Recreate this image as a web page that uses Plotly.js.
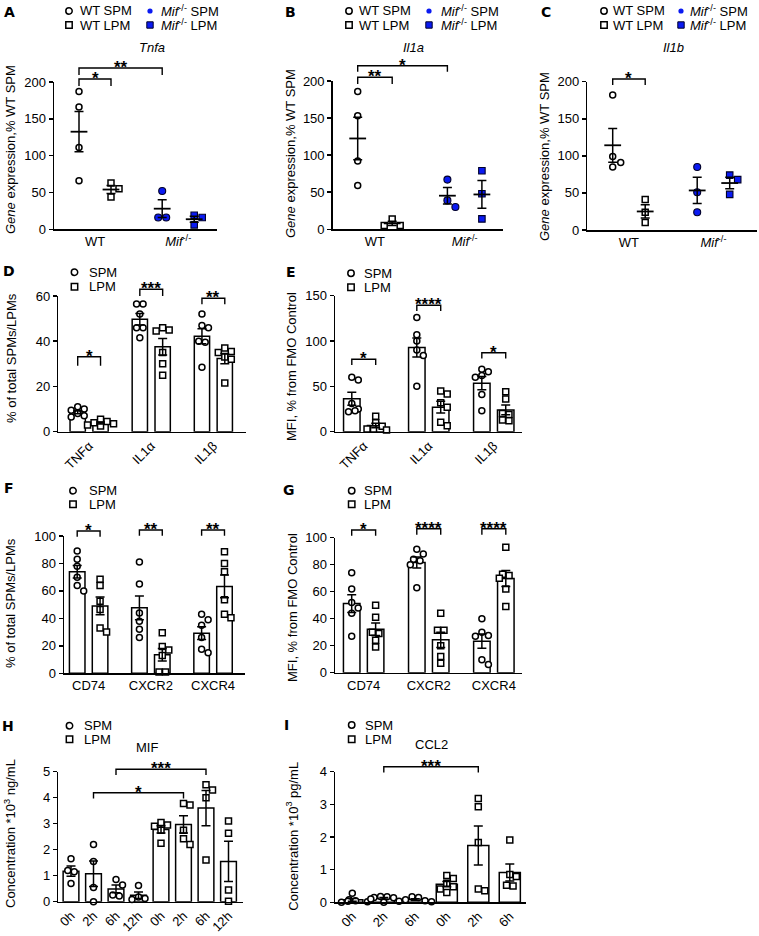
<!DOCTYPE html>
<html><head><meta charset="utf-8">
<script src="https://cdn.plot.ly/plotly-3.0.1.min.js"></script>
<style>html,body{margin:0;padding:0;background:#fff;}#chart{width:759px;height:936px;}</style>
</head><body><div id="chart"></div>
<script>
// ================= DATA =================
// A-C: gene expression, % WT SPM
const abcTicks = ['WT', '<i>Mif</i><sup>-/-</sup>'];
const abcTitles = ['Tnfa', 'Il1a', 'Il1b'];
const tnfaWTSPM = [187, 166, 111, 66];
const tnfaWTLPM = [63, 55, 44];
const tnfaMifSPM = [52, 16, 16];
const tnfaMifLPM = [19, 16, 6];
const il1aWTSPM = [186, 153, 92, 59];
const il1aWTLPM = [14, 5, 5];
const il1aMifSPM = [67, 39, 30];
const il1aMifLPM = [79, 48, 14];
const il1bWTSPM = [182, 99, 91, 85];
const il1bWTLPM = [41, 24, 10];
const il1bMifSPM = [85, 51, 24];
const il1bMifLPM = [74, 68, 48];
// D: % of total SPMs/LPMs
const cytoCats = ['TNFα', 'IL1α', 'IL1β'];
const dTnfSPM = [11, 10, 9.5, 8, 7, 6.5];
const dTnfLPM = [5.5, 4.5, 4, 3.5, 3, 2.5];
const dIl1aSPM = [56.5, 56.5, 52, 46, 46, 41.5];
const dIl1aLPM = [46, 45, 44.5, 35, 30, 25];
const dIl1bSPM = [52, 47, 46, 40, 39.5, 28.5];
const dIl1bLPM = [37, 35.5, 35, 33, 32, 21.5];
// E: MFI, % from FMO control
const eTnfSPM = [60, 57, 31, 25, 23, 22];
const eTnfLPM = [17, 10, 6, 3, 3, 2];
const eIl1aSPM = [126, 107, 100, 90, 84, 50];
const eIl1aLPM = [45, 41.5, 32, 27, 10.5, 6.5];
const eIl1bSPM = [69, 66, 62, 60, 41, 23];
const eIl1bLPM = [44, 36, 20, 19, 13, 12];
// F: % of total SPMs/LPMs
const recCats = ['CD74', 'CXCR2', 'CXCR4'];
const fCd74SPM = [89, 83, 78, 70, 64, 60];
const fCd74LPM = [68.5, 64, 52.5, 46.5, 33, 30];
const fCxcr2SPM = [81, 65, 44, 38, 32, 26];
const fCxcr2LPM = [29.5, 19.5, 17, 13, 1, 1];
const fCxcr4SPM = [43, 39, 35, 26, 17.5, 15];
const fCxcr4LPM = [88.5, 80, 74, 53.5, 43, 40.5];
// G: MFI, % from FMO control
const gCd74SPM = [74, 62, 52, 48, 44, 27];
const gCd74LPM = [50, 41, 30, 29, 24, 19];
const gCxcr2SPM = [91.5, 88, 84, 83, 80, 63];
const gCxcr2LPM = [44, 31.5, 31.5, 20, 12, 7];
const gCxcr4SPM = [40, 30, 27.5, 27, 9.5, 6];
const gCxcr4LPM = [93, 73, 72, 70, 62, 49];
// H: MIF concentration *10^3 ng/mL
const hCats = ['0h', '2h', '6h', '12h', '0h', '2h', '6h', '12h'];
const hSPM0 = [1.65, 1.15, 1.2, 0.7];
const hSPM2 = [2.2, 1.55, 0.55, 0.0];
const hSPM6 = [0.85, 0.64, 0.26, 0.22];
const hSPM12 = [0.62, 0.18, 0.12, 0.08];
const hLPM0 = [3.05, 2.95, 2.9, 2.75, 2.25];
const hLPM2 = [3.78, 3.72, 2.75, 2.42, 2.2];
const hLPM6 = [4.5, 4.3, 4.0, 1.6];
const hLPM12 = [3.1, 2.63, 0.45, 0.02];
// I: CCL2 concentration *10^3 pg/mL
const iCats = ['0h', '2h', '6h', '0h', '2h', '6h'];
const iSPM0 = [0.28, 0.08, 0.05, 0.03, 0.02, 0.0];
const iSPM2 = [0.18, 0.17, 0.15, 0.14, 0.1, 0.0];
const iSPM6 = [0.17, 0.15, 0.08, 0.05, 0.03, 0.02];
const iLPM0 = [0.82, 0.73, 0.58, 0.48, 0.41, 0.3];
const iLPM2 = [3.18, 2.93, 1.83, 0.41, 0.35];
const iLPM6 = [1.91, 0.85, 0.79, 0.52, 0.5];

// ================= LAYOUT HELPERS =================
const FONT = 'Liberation Sans, Arial, Helvetica, sans-serif';
const W = 759, H = 936;
const PX = x => x / W, PY = y => 1 - y / H;
const GAP = 2.72;
const ABCPOS = [0, 1, 2.6, 3.6];

const geo = {
  A: {n: 1, xL: 54, xR: 217, yT: 82, yB: 229.3, yMax: 200, dt: 50, p0: 79, u: 32},
  B: {n: 2, xL: 332.7, xR: 503, yT: 81, yB: 229.3, yMax: 200, dt: 50, p0: 357.7, u: 34.5},
  C: {n: 3, xL: 587.3, xR: 757, yT: 81.7, yB: 230, yMax: 200, dt: 50, p0: 612.7, u: 32.5},
  D: {n: 4, xL: 58.3, xR: 246, yT: 296, yB: 431.7, yMax: 60, dt: 20, p0: 77.7, u: 22.84, bw: 0.67},
  E: {n: 5, xL: 335, xR: 521.7, yT: 295.7, yB: 431.7, yMax: 150, dt: 50, p0: 351.8, u: 23.9, bw: 0.69},
  F: {n: 6, xL: 64, xR: 245, yT: 536, yB: 673.3, yMax: 100, dt: 20, p0: 77.2, u: 22.87, bw: 0.68},
  G: {n: 7, xL: 335, xR: 521.7, yT: 537.7, yB: 672.7, yMax: 100, dt: 20, p0: 351.7, u: 23.93, bw: 0.69},
  H: {n: 8, xL: 58.3, xR: 243, yT: 771.7, yB: 901.7, yMax: 5, dt: 1, p0: 71, u: 22.5, bw: 0.7},
  I: {n: 9, xL: 335, xR: 526, yT: 771.7, yB: 902.3, yMax: 4, dt: 1, p0: 352.3, u: 31.5, bw: 0.67}
};
Object.values(geo).forEach(g => {
  g.xa = g.n === 1 ? 'x' : 'x' + g.n;
  g.ya = g.n === 1 ? 'y' : 'y' + g.n;
});
const xPix = (g, x) => g.p0 + x * g.u;

const mean = a => a.reduce((s, v) => s + v, 0) / a.length;
const sem = a => {
  const m = mean(a);
  const v = a.reduce((s, x) => s + (x - m) * (x - m), 0) / (a.length - 1);
  return Math.sqrt(v / a.length);
};

function swarm(vals, center, g, d) {
  const ky = (g.yB - g.yT) / g.yMax;
  const order = vals.map((v, i) => i).sort((a, b) => vals[b] - vals[a]);
  const placed = [];
  const xo = new Array(vals.length).fill(0);
  order.forEach(i => {
    const yp = vals[i] * ky;
    for (let k = 0; k < 40; k++) {
      const c = (k === 0 ? 0 : (k % 2 ? 1 : -1) * Math.ceil(k / 2)) * d;
      if (placed.every(p => Math.hypot(p.xo - c, p.yp - yp) >= 0.9 * d)) {
        xo[i] = c; placed.push({xo: c, yp}); break;
      }
    }
  });
  const used = new Set();
  order.forEach(i => {
    if (used.has(i)) return;
    const row = order.filter(j => !used.has(j) && Math.abs(vals[j] - vals[i]) * ky < 1.5);
    row.forEach(j => used.add(j));
    if (row.length > 1) {
      const m = row.reduce((s, j) => s + xo[j], 0) / row.length;
      row.forEach(j => { xo[j] -= m; });
    }
  });
  return vals.map((v, i) => center + xo[i] / g.u);
}

const traces = [], ann = [], shp = [];
const layout = {
  width: W, height: H, margin: {l: 0, r: 0, t: 0, b: 0},
  paper_bgcolor: 'white', plot_bgcolor: 'rgba(0,0,0,0)',
  font: {family: FONT, size: 13, color: 'black'},
  showlegend: false, bargap: 0, annotations: ann, shapes: shp
};

const mkOC = {symbol: 'circle', size: 6, color: 'white', line: {color: 'black', width: 1.5}};
const mkOS = {symbol: 'square', size: 6, color: 'white', line: {color: 'black', width: 1.5}};
const mkBC = {symbol: 'circle', size: 7, color: '#0a1af2', line: {color: '#00002a', width: 1.1}};
const mkBS = {symbol: 'square', size: 6.5, color: '#0a1af2', line: {color: '#00002a', width: 1.1}};

function axes(g, xopts) {
  const xn = g.n === 1 ? 'xaxis' : 'xaxis' + g.n;
  const yn = g.n === 1 ? 'yaxis' : 'yaxis' + g.n;
  layout[xn] = Object.assign({
    domain: [PX(g.xL), PX(g.xR)], range: [(g.xL - g.p0) / g.u, (g.xR - g.p0) / g.u],
    anchor: g.ya, showline: true, linecolor: 'black', linewidth: 1.5, ticks: '',
    showgrid: false, zeroline: false, tickmode: 'array', tickfont: {size: 13, color: 'black'}
  }, xopts);
  layout[yn] = {
    domain: [PY(g.yB), PY(g.yT)], range: [0, g.yMax], anchor: g.xa,
    showline: true, linecolor: 'black', linewidth: 1.5, ticks: 'outside', ticklen: 4,
    tickwidth: 1.5, tickcolor: 'black', showgrid: false, zeroline: false,
    tick0: 0, dtick: g.dt, tickfont: {size: 13, color: 'black'}
  };
}

function pts(g, groups, marker, d) {
  const x = [], y = [];
  groups.forEach(gr => {
    const xs = swarm(gr.vals, gr.pos, g, d);
    xs.forEach((xx, i) => { x.push(xx); y.push(gr.vals[i]); });
  });
  traces.push({type: 'scatter', mode: 'markers', x, y, xaxis: g.xa, yaxis: g.ya,
    cliponaxis: false, hoverinfo: 'skip', marker});
}

function meanErr(g, groups, marker, capw) {
  traces.push({type: 'scatter', mode: 'markers', xaxis: g.xa, yaxis: g.ya, cliponaxis: false,
    hoverinfo: 'skip', x: groups.map(gr => gr.pos), y: groups.map(gr => mean(gr.vals)),
    marker,
    error_y: {type: 'data', array: groups.map(gr => sem(gr.vals)), visible: true,
      color: 'black', thickness: 1.5, width: capw}});
}

function bars(g, groups) {
  traces.push({type: 'bar', xaxis: g.xa, yaxis: g.ya, hoverinfo: 'skip',
    x: groups.map(gr => gr.pos), y: groups.map(gr => mean(gr.vals)), width: g.bw,
    marker: {color: 'white', line: {color: 'black', width: 1.5}}});
}

function txt(x, y, text, opt) {
  ann.push(Object.assign({xref: 'paper', yref: 'paper', x: PX(x), y: PY(y), text,
    showarrow: false, xanchor: 'center', yanchor: 'middle',
    font: {family: FONT, size: 13, color: 'black'}}, opt || {}));
}

function mark(kind, cx, cy) {
  const r = 3.2;
  const b = {xref: 'paper', yref: 'paper', x0: PX(cx - r), x1: PX(cx + r), y0: PY(cy + r), y1: PY(cy - r), layer: 'above'};
  if (kind === 'oc') shp.push(Object.assign(b, {type: 'circle', fillcolor: 'white', line: {color: 'black', width: 1.5}}));
  if (kind === 'os') shp.push(Object.assign(b, {type: 'rect', fillcolor: 'white', line: {color: 'black', width: 1.5}}));
  if (kind === 'bc') {
    const rr = 2.6;
    shp.push({xref: 'paper', yref: 'paper', type: 'circle', x0: PX(cx - rr), x1: PX(cx + rr), y0: PY(cy + rr), y1: PY(cy - rr), fillcolor: '#0a1af2', line: {width: 0}});
  }
  if (kind === 'bs') shp.push(Object.assign(b, {type: 'rect', fillcolor: '#0a1af2', line: {color: '#00002a', width: 1}}));
}

function legend2(cx, textX, y1, y2) {
  mark('oc', cx, y1); txt(textX, y1, 'SPM', {xanchor: 'left'});
  mark('os', cx, y2); txt(textX, y2, 'LPM', {xanchor: 'left'});
}

function legend4(c1, t1, c2, t2) {
  mark('oc', c1, 11); txt(t1, 11, 'WT SPM', {xanchor: 'left'});
  mark('os', c1, 25); txt(t1, 25, 'WT LPM', {xanchor: 'left'});
  mark('bc', c2, 11); txt(t2, 11, '<i>Mif</i><sup>-/-</sup> SPM', {xanchor: 'left'});
  mark('bs', c2, 25); txt(t2, 25, '<i>Mif</i><sup>-/-</sup> LPM', {xanchor: 'left'});
}

function bracket(g, a, b, top, leg, stars) {
  const xa = PX(xPix(g, a)), xb = PX(xPix(g, b));
  shp.push({type: 'path', xref: 'paper', yref: 'paper',
    path: `M${xa},${PY(top + leg)} L${xa},${PY(top)} L${xb},${PY(top)} L${xb},${PY(top + leg)}`,
    line: {color: 'black', width: 1.4}});
  txt(xPix(g, (a + b) / 2), top - 0.5, '<b>' + stars + '</b>', {font: {family: FONT, size: 17, color: 'black'}});
}

function letter(l, x, y) {
  txt(x, y, '<b>' + l + '</b>', {font: {family: 'DejaVu Sans, sans-serif', size: 14, color: 'black'}});
}
function ytitle(x, y, text) { txt(x, y, text, {textangle: -90}); }

// ================= PANELS A-C =================
function panelABC(g, sets, title, titleX) {
  axes(g, {tickvals: [(ABCPOS[0] + ABCPOS[1]) / 2, (ABCPOS[2] + ABCPOS[3]) / 2], ticktext: abcTicks});
  const mk = [mkOC, mkOS, mkBC, mkBS];
  sets.forEach((vals, i) => pts(g, [{pos: ABCPOS[i], vals}], mk[i], 8));
  meanErr(g, sets.map((vals, i) => ({pos: ABCPOS[i], vals})),
    {symbol: 'line-ew', size: 12, line: {color: 'black', width: 1.8}}, 4.5);
  txt(titleX, 47, '<i>' + title + '</i>');
}
panelABC(geo.A, [tnfaWTSPM, tnfaWTLPM, tnfaMifSPM, tnfaMifLPM], abcTitles[0], 152);
panelABC(geo.B, [il1aWTSPM, il1aWTLPM, il1aMifSPM, il1aMifLPM], abcTitles[1], 413);
panelABC(geo.C, [il1bWTSPM, il1bWTLPM, il1bMifSPM, il1bMifLPM], abcTitles[2], 673);
legend4(69, 78, 150, 159);
legend4(349, 357, 429, 439);
legend4(604, 611, 681, 688);
letter('A', 9, 12); letter('B', 290.5, 12); letter('C', 545.5, 12);
const geneTitle = '<i>Gene</i> expression,% WT SPM';
ytitle(10, 150, geneTitle); ytitle(291, 154, geneTitle); ytitle(545, 157, geneTitle);
bracket(geo.A, ABCPOS[0], ABCPOS[1], 79, 7, '*');
bracket(geo.A, ABCPOS[0], ABCPOS[2], 68, 7, '**');
bracket(geo.B, ABCPOS[0], ABCPOS[1], 77.3, 6.7, '**');
bracket(geo.B, ABCPOS[0], ABCPOS[2], 65.7, 6, '*');
bracket(geo.C, ABCPOS[0], ABCPOS[1], 79, 6, '*');

// ================= PANELS D-G (paired bars) =================
function panelPair(g, spmSets, lpmSets, cats, angle) {
  axes(g, {tickvals: cats.map((c, i) => i * GAP + 0.5), ticktext: cats, tickangle: angle});
  const spm = spmSets.map((vals, i) => ({pos: i * GAP, vals}));
  const lpm = lpmSets.map((vals, i) => ({pos: i * GAP + 1, vals}));
  bars(g, spm.concat(lpm));
  pts(g, spm, mkOC, 6.5);
  pts(g, lpm, mkOS, 6.5);
  meanErr(g, spm.concat(lpm), {size: 1, color: 'rgba(0,0,0,0)'}, 4.5);
}
panelPair(geo.D, [dTnfSPM, dIl1aSPM, dIl1bSPM], [dTnfLPM, dIl1aLPM, dIl1bLPM], cytoCats, -45);
panelPair(geo.E, [eTnfSPM, eIl1aSPM, eIl1bSPM], [eTnfLPM, eIl1aLPM, eIl1bLPM], cytoCats, -45);
panelPair(geo.F, [fCd74SPM, fCxcr2SPM, fCxcr4SPM], [fCd74LPM, fCxcr2LPM, fCxcr4LPM], recCats, 0);
panelPair(geo.G, [gCd74SPM, gCxcr2SPM, gCxcr4SPM], [gCd74LPM, gCxcr2LPM, gCxcr4LPM], recCats, 0);
legend2(74.5, 87, 272.3, 286.7);
legend2(351, 361.7, 273.3, 287.3);
legend2(73, 87, 490.7, 504.3);
legend2(351.7, 361.7, 490.7, 504.3);
letter('D', 8.7, 270.5); letter('E', 290.7, 271.7); letter('F', 9, 488); letter('G', 289, 489.5);
ytitle(11, 358, '% of total SPMs/LPMs');
ytitle(292, 367, 'MFI, % from FMO Control');
ytitle(10, 603, '% of total SPMs/LPMs');
ytitle(292, 608, 'MFI, % from FMO Control');
bracket(geo.D, 0, 1, 356.7, 9, '*');
bracket(geo.D, GAP, GAP + 1, 289.3, 6.7, '***');
bracket(geo.D, 2 * GAP, 2 * GAP + 1, 298.3, 6, '**');
bracket(geo.E, 0, 1, 359.3, 5.7, '*');
bracket(geo.E, GAP, GAP + 1, 305.3, 5.7, '****');
bracket(geo.E, 2 * GAP, 2 * GAP + 1, 352.7, 5.7, '*');
bracket(geo.F, 0, 1, 531, 5.7, '*');
bracket(geo.F, GAP, GAP + 1, 530, 5.7, '**');
bracket(geo.F, 2 * GAP, 2 * GAP + 1, 530, 5.7, '**');
bracket(geo.G, 0, 1, 530, 5.7, '*');
bracket(geo.G, GAP, GAP + 1, 528.7, 6, '****');
bracket(geo.G, 2 * GAP, 2 * GAP + 1, 528.7, 6, '****');

// ================= PANELS H-I (time course) =================
function panelTime(g, spmSets, lpmSets, cats) {
  axes(g, {tickvals: cats.map((c, i) => i), ticktext: cats, tickangle: -45});
  const spm = spmSets.map((vals, i) => ({pos: i, vals}));
  const lpm = lpmSets.map((vals, i) => ({pos: spmSets.length + i, vals}));
  bars(g, spm.concat(lpm));
  pts(g, spm, mkOC, 6.5);
  pts(g, lpm, mkOS, 6.5);
  meanErr(g, spm.concat(lpm), {size: 1, color: 'rgba(0,0,0,0)'}, 4.5);
}
panelTime(geo.H, [hSPM0, hSPM2, hSPM6, hSPM12], [hLPM0, hLPM2, hLPM6, hLPM12], hCats);
panelTime(geo.I, [iSPM0, iSPM2, iSPM6], [iLPM0, iLPM2, iLPM6], iCats);
legend2(69.5, 81.7, 725.7, 739.3);
legend2(351.7, 363.3, 725, 739.3);
letter('H', 8.3, 726); letter('I', 286.5, 724.7);
txt(146.7, 747.3, 'MIF');
txt(431.7, 744, 'CCL2');
ytitle(10, 834, 'Concentration *10<sup>3</sup> ng/mL');
ytitle(292, 836.7, 'Concentration *10<sup>3</sup> pg/mL');
bracket(geo.H, 1, 5, 792.7, 5.7, '*');
bracket(geo.H, 2, 6, 769.3, 5.7, '***');
bracket(geo.I, 1, 4, 766.7, 5.7, '***');

Plotly.newPlot('chart', traces, layout, {displayModeBar: false, staticPlot: true});
</script>
</body></html>
